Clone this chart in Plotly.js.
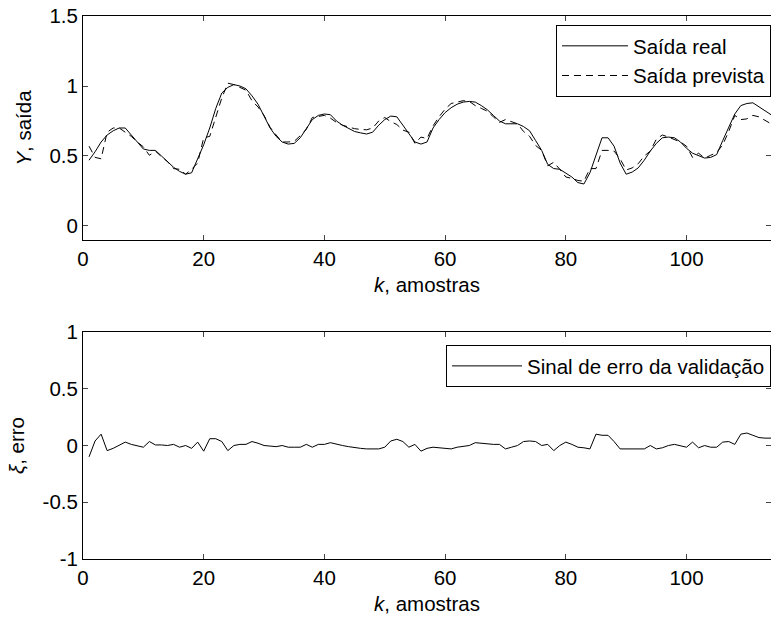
<!DOCTYPE html>
<html>
<head>
<meta charset="utf-8">
<script src="https://cdn.plot.ly/plotly-3.0.1.min.js"></script>
<style>html,body{margin:0;padding:0;background:#fff;}#chart{width:771px;height:619px;}</style>
</head>
<body>
<div id="chart"></div>
<script>
// sample index k
const k = [];
for (let i = 1; i <= 114; i++) k.push(i);

// Saída real (measured output)
const saidaReal = [
0.47,0.53,0.60,0.65,0.68,0.70,0.70,0.65,0.60,0.55,
0.54,0.54,0.50,0.46,0.42,0.39,0.37,0.38,0.48,0.58,
0.70,0.84,0.95,0.99,1.01,1.00,0.98,0.93,0.87,0.79,
0.70,0.64,0.60,0.585,0.59,0.63,0.70,0.76,0.79,0.80,
0.795,0.75,0.72,0.695,0.675,0.665,0.657,0.67,0.72,0.76,
0.785,0.78,0.72,0.655,0.60,0.585,0.60,0.70,0.76,0.81,
0.845,0.87,0.885,0.89,0.885,0.86,0.83,0.79,0.75,0.73,
0.73,0.73,0.71,0.68,0.61,0.54,0.44,0.41,0.405,0.38,
0.35,0.31,0.30,0.38,0.51,0.63,0.63,0.57,0.45,0.37,
0.385,0.415,0.47,0.535,0.59,0.63,0.635,0.63,0.60,0.555,
0.52,0.50,0.485,0.49,0.51,0.61,0.71,0.80,0.86,0.875,
0.88,0.85,0.82,0.795
];

// Saída prevista (predicted output)
const saidaPrevista = [
0.57,0.49,0.48,0.67,0.70,0.70,0.67,0.64,0.60,0.565,
0.505,0.535,0.495,0.46,0.41,0.405,0.37,0.405,0.45,0.63,
0.64,0.78,0.915,1.02,1.01,0.99,0.97,0.895,0.85,0.79,
0.705,0.65,0.60,0.60,0.605,0.645,0.69,0.775,0.78,0.79,
0.77,0.74,0.72,0.705,0.695,0.69,0.687,0.70,0.75,0.775,
0.745,0.725,0.685,0.67,0.59,0.635,0.625,0.715,0.78,0.835,
0.875,0.885,0.895,0.89,0.86,0.84,0.82,0.78,0.74,0.76,
0.745,0.73,0.675,0.64,0.575,0.54,0.43,0.455,0.405,0.35,
0.34,0.325,0.32,0.41,0.41,0.54,0.54,0.535,0.48,0.40,
0.415,0.445,0.50,0.535,0.62,0.65,0.635,0.62,0.60,0.57,
0.49,0.52,0.485,0.505,0.525,0.58,0.675,0.79,0.76,0.765,
0.79,0.78,0.755,0.73
];

// Sinal de erro da validação (validation error)
const erro = [
-0.10,0.04,0.10,-0.045,-0.025,0.0,0.03,0.01,0.0,-0.015,
0.035,0.005,0.005,0.0,0.01,-0.015,0.0,-0.025,0.03,-0.05,
0.06,0.06,0.035,-0.045,0.0,0.01,0.01,0.035,0.02,0.0,
-0.005,-0.01,0.0,-0.015,-0.015,-0.015,0.01,-0.015,0.01,0.01,
0.025,0.01,0.0,-0.01,-0.02,-0.025,-0.03,-0.03,-0.03,-0.015,
0.04,0.055,0.035,-0.015,0.01,-0.05,-0.025,-0.015,-0.02,-0.025,
-0.03,-0.015,-0.01,0.0,0.025,0.02,0.01,0.01,0.01,-0.03,
-0.015,0.0,0.035,0.04,0.035,0.0,0.01,-0.045,0.0,0.03,
0.01,-0.015,-0.02,-0.03,0.10,0.09,0.09,0.035,-0.03,-0.03,
-0.03,-0.03,-0.03,0.0,-0.03,-0.02,0.0,0.01,0.0,-0.015,
0.03,-0.02,0.0,-0.015,-0.015,0.03,0.035,0.01,0.10,0.11,
0.09,0.07,0.065,0.065
];

const xTicks = [0, 20, 40, 60, 80, 100];
const xTickText = ['0', '20', '40', '60', '80', '100'];
const yTicksTop = [0, 0.5, 1, 1.5];
const yTickTextTop = ['0', '0.5', '1', '1.5'];
const yTicksBottom = [-1, -0.5, 0, 0.5, 1];
const yTickTextBottom = ['-1', '-0.5', '0', '0.5', '1'];

const FONT = 'Liberation Sans, Arial, Helvetica, sans-serif';
const fs = 20.5;

const traces = [
  {x: k, y: saidaReal, type: 'scatter', mode: 'lines', name: 'Saída real',
   line: {color: '#000', width: 1}, xaxis: 'x', yaxis: 'y', legend: 'legend'},
  {x: k, y: saidaPrevista, type: 'scatter', mode: 'lines', name: 'Saída prevista',
   line: {color: '#000', width: 1, dash: '7px,5px'}, xaxis: 'x', yaxis: 'y', legend: 'legend'},
  {x: k, y: erro, type: 'scatter', mode: 'lines', name: 'Sinal de erro da validação',
   line: {color: '#000', width: 1}, xaxis: 'x2', yaxis: 'y2', legend: 'legend2'}
];

function xax(anchor) {
  return {
    range: [0, 114], tickvals: xTicks, ticktext: xTickText, ticks: 'inside', ticklen: 5, mirror: 'ticks',
    showline: true, linecolor: '#000', linewidth: 1, showgrid: false, zeroline: false,
    tickfont: {family: FONT, size: fs, color: '#000'}, anchor: anchor,
    title: {text: '<i>k</i>, amostras', font: {family: FONT, size: fs, color: '#000'}, standoff: 9}
  };
}
function yax(range, vals, text, title, domain, anchor, standoff) {
  return {
    range: range, tickvals: vals, ticktext: text, ticks: 'inside', ticklen: 5, mirror: 'ticks',
    showline: true, linecolor: '#000', linewidth: 1, showgrid: false, zeroline: false,
    tickfont: {family: FONT, size: fs, color: '#000'}, domain: domain, anchor: anchor,
    title: {text: title, font: {family: FONT, size: fs, color: '#000'}, standoff: standoff}
  };
}

const layout = {
  width: 771, height: 619,
  margin: {l: 83, r: 0, t: 16, b: 60},
  paper_bgcolor: '#fff', plot_bgcolor: '#fff',
  showlegend: true,
  font: {family: FONT, size: fs, color: '#000'},
  xaxis: Object.assign(xax('y'), {domain: [0, 1]}),
  yaxis: yax([-0.1, 1.5], yTicksTop, yTickTextTop, '<i>Y</i>, saída', [0.5875, 1], 'x', 12),
  xaxis2: Object.assign(xax('y2'), {domain: [0, 1]}),
  yaxis2: yax([-1, 1], yTicksBottom, yTickTextBottom, '<i>ξ</i>, erro', [0, 0.418], 'x2', 12),
  legend: {x: 1, xanchor: 'right', y: 0.9834, yanchor: 'top', bgcolor: '#fff',
    bordercolor: '#000', borderwidth: 1, font: {family: FONT, size: fs, color: '#000'},
    itemwidth: 66, tracegroupgap: 0},
  legend2: {x: 1, xanchor: 'right', y: 0.394, yanchor: 'top', bgcolor: '#fff',
    bordercolor: '#000', borderwidth: 1, font: {family: FONT, size: fs, color: '#000'},
    itemwidth: 70}
};

Plotly.newPlot('chart', traces, layout, {displayModeBar: false, staticPlot: true});
</script>
</body>
</html>
